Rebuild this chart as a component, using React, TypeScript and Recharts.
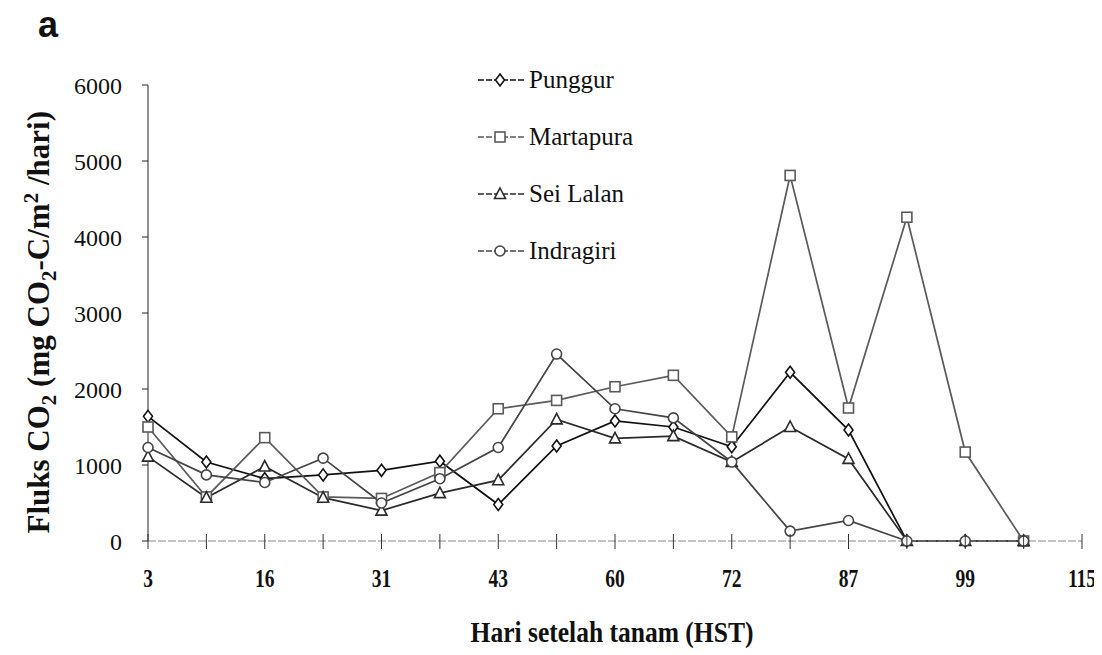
import React from 'react';
import { LineChart, Line, XAxis, YAxis } from 'recharts';

// tick labels on the x axis (every second tick is unlabeled)
const tickLabels = ['3', '', '16', '', '31', '', '43', '', '60', '', '72', '', '87', '', '99', '', '115'];

const punggur = [1640, 1040, 820, 870, 930, 1050, 480, 1250, 1580, 1500, 1240, 2220, 1460, 0, 0, 0];
const martapura = [1500, 580, 1360, 580, 560, 900, 1740, 1850, 2030, 2180, 1370, 4810, 1750, 4260, 1170, 0];
const seiLalan = [1110, 570, 980, 570, 400, 630, 800, 1600, 1350, 1380, 1040, 1500, 1080, 0, 0, 0];
const indragiri = [1230, 870, 770, 1090, 500, 820, 1230, 2460, 1740, 1620, 1040, 130, 270, 0, 0, 0];

const yTicks = [0, 1000, 2000, 3000, 4000, 5000, 6000];

const rows = punggur.map((v, i) => ({
  idx: i,
  punggur: v,
  martapura: martapura[i],
  seiLalan: seiLalan[i],
  indragiri: indragiri[i],
}));

const FONT = '"Liberation Serif", "Times New Roman", serif';

type Shape = 'diamond' | 'square' | 'triangle' | 'circle';

const Marker = ({ shape, cx, cy, stroke }: { shape: Shape; cx: number; cy: number; stroke: string }) => {
  const p = { fill: '#fff', stroke, strokeWidth: 1.6 };
  if (shape === 'diamond') {
    return <polygon points={`${cx},${cy - 6} ${cx + 4.5},${cy} ${cx},${cy + 6} ${cx - 4.5},${cy}`} {...p} />;
  }
  if (shape === 'square') {
    return <rect x={cx - 5} y={cy - 5} width={10} height={10} {...p} />;
  }
  if (shape === 'triangle') {
    return <polygon points={`${cx},${cy - 6} ${cx + 5.5},${cy + 4.5} ${cx - 5.5},${cy + 4.5}`} {...p} />;
  }
  return <circle cx={cx} cy={cy} r={5} {...p} />;
};

const makeDot = (shape: Shape, stroke: string) => (props: any) => {
  const { cx, cy, index } = props;
  if (cx == null || cy == null) return <g key={index} />;
  return (
    <g key={`${shape}-${index}`}>
      <Marker shape={shape} cx={cx} cy={cy} stroke={stroke} />
    </g>
  );
};

const series = [
  { key: 'punggur', name: 'Punggur', shape: 'diamond' as Shape, color: '#111111' },
  { key: 'martapura', name: 'Martapura', shape: 'square' as Shape, color: '#5a5a5a' },
  { key: 'seiLalan', name: 'Sei Lalan', shape: 'triangle' as Shape, color: '#2a2a2a' },
  { key: 'indragiri', name: 'Indragiri', shape: 'circle' as Shape, color: '#444444' },
];

const XTick = (props: any) => {
  const { x, y, payload } = props;
  return (
    <g>
      <line x1={x} x2={x} y1={y - 7} y2={y + 8} stroke="#333" strokeWidth={1} />
      <text
        transform={`translate(${x},${y + 46}) scale(0.78,1)`}
        textAnchor="middle"
        fontFamily={FONT}
        fontWeight="bold"
        fontSize={25}
        fill="#111"
      >
        {tickLabels[payload.value]}
      </text>
    </g>
  );
};

const App: React.FC = () => {
  return (
    <div style={{ position: 'relative', width: 1094, height: 640, background: '#fff' }}>
      <div
        style={{
          position: 'absolute',
          left: 30,
          top: -4,
          fontFamily: '"Liberation Sans", Arial, sans-serif',
          fontWeight: 'bold',
          fontSize: 36,
          color: '#111',
        }}
      >
        a
      </div>

      <LineChart width={1094} height={640} data={rows} margin={{ top: 77, right: 20, bottom: 47, left: 60 }}>
        <XAxis
          type="number"
          dataKey="idx"
          domain={[0, 16]}
          ticks={tickLabels.map((_, i) => i)}
          interval={0}
          height={60}
          tickSize={0}
          tickMargin={0}
          tickLine={false}
          axisLine={{ stroke: '#8a8a8a', strokeDasharray: '8 2' }}
          tick={<XTick />}
        />
        <YAxis
          type="number"
          domain={[0, 6000]}
          ticks={yTicks}
          width={80}
          tickSize={6}
          tickMargin={20}
          axisLine={{ stroke: '#222' }}
          tickLine={{ stroke: '#222' }}
          tick={{ fontFamily: FONT, fontSize: 24, fill: '#111' }}
        />
        {series.map((s) => (
          <Line
            key={s.key}
            type="linear"
            dataKey={s.key}
            name={s.name}
            stroke={s.color}
            strokeWidth={1.7}
            dot={makeDot(s.shape, s.color)}
            activeDot={false}
            isAnimationActive={false}
          />
        ))}
      </LineChart>

      {/* legend */}
      <div style={{ position: 'absolute', left: 470, top: 43 }}>
        {series.map((s) => (
          <div key={s.key} style={{ display: 'flex', alignItems: 'center', height: 57 }}>
            <svg width={46} height={16}>
              <line x1={0} x2={46} y1={8} y2={8} stroke={s.color} strokeWidth={1.3} strokeDasharray="6 2" />
              <Marker shape={s.shape} cx={22} cy={8} stroke={s.color} />
            </svg>
            <span style={{ marginLeft: 5, fontFamily: FONT, fontSize: 25, color: '#111' }}>{s.name}</span>
          </div>
        ))}
      </div>

      {/* y axis title */}
      <div
        style={{
          position: 'absolute',
          left: 32 - 260,
          top: 305 - 20,
          width: 520,
          textAlign: 'center',
          transform: 'rotate(-90deg)',
          transformOrigin: 'center',
          fontFamily: FONT,
          fontWeight: 'bold',
          fontSize: 31,
          color: '#111',
          whiteSpace: 'nowrap',
          lineHeight: '40px',
        }}
      >
        Fluks CO<sub style={{ fontSize: 21 }}>2</sub> (mg CO<sub style={{ fontSize: 21 }}>2</sub>-C/m
        <sup style={{ fontSize: 21 }}>2</sup> /hari)
      </div>

      {/* x axis title */}
      <div
        style={{
          position: 'absolute',
          left: 354,
          top: 608,
          width: 500,
          textAlign: 'center',
          fontFamily: FONT,
          fontWeight: 'bold',
          fontSize: 29,
          color: '#111',
          whiteSpace: 'nowrap',
          transform: 'scaleX(0.88)',
        }}
      >
        Hari setelah tanam (HST)
      </div>
    </div>
  );
};

export default App;
